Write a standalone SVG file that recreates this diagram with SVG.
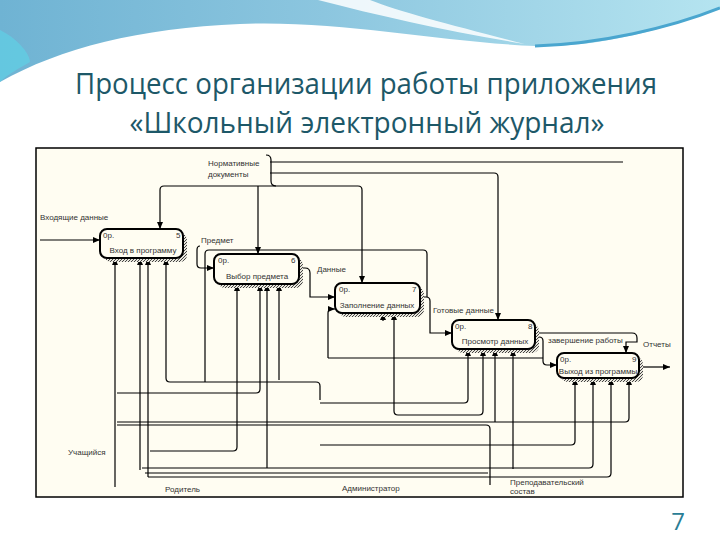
<svg xmlns="http://www.w3.org/2000/svg" width="720" height="540" viewBox="0 0 720 540">
<defs>
<linearGradient id="sky" x1="0" y1="0" x2="1" y2="0">
<stop offset="0" stop-color="#6fb3d3"/>
<stop offset="0.45" stop-color="#8cc6df"/>
<stop offset="1" stop-color="#b5e4f0"/>
</linearGradient>
<pattern id="hatch" patternUnits="userSpaceOnUse" width="3" height="3">
<rect width="3" height="3" fill="#e8e6dc"/>
<path d="M0,3 L3,0" stroke="#333" stroke-width="0.9"/>
</pattern>
<marker id="ah" markerUnits="userSpaceOnUse" markerWidth="8" markerHeight="7" refX="7" refY="3" orient="auto">
<path d="M0,0 L7,3 L0,6 Z" fill="#000"/>
</marker>
<style>
.ln{fill:none;stroke:#000;stroke-width:1.2}
.arr{fill:none;stroke:#000;stroke-width:1.2;marker-end:url(#ah)}
.box{fill:#fffdf2;stroke:#000;stroke-width:2}
.sh{fill:url(#hatch)}
.t{font-family:"Liberation Sans",Arial,sans-serif;font-size:8px;fill:#333}
.bt{font-family:"Liberation Sans",Arial,sans-serif;font-size:8px;fill:#333}
.title{font-family:"Open Sans","Liberation Sans",sans-serif;font-size:30px;fill:#1d5868}
</style>
</defs>
<rect width="720" height="540" fill="#ffffff"/>
<g id="background">
<path d="M0,0 H720 V8 C660,32 590,48 535,46 C440,42 340,20 240,24 C140,28 60,48 0,82 Z" fill="url(#sky)"/>
<path d="M0,30 C20,40 30,55 30,62 C20,68 8,74 0,82 Z" fill="#5fd0e6" opacity="0.7"/>
<path d="M318,0 C380,16 450,32 525,44 C455,26 400,12 370,0 Z" fill="#ffffff" opacity="0.85"/>
<path d="M535,46 C600,44 670,28 720,8" fill="none" stroke="#4aa6cf" stroke-width="3"/>
</g>
<g id="title">
<text class="title" x="366" y="94" text-anchor="middle" textLength="582" lengthAdjust="spacingAndGlyphs">Процесс организации работы приложения</text>
<text class="title" x="367" y="133" text-anchor="middle" textLength="475" lengthAdjust="spacingAndGlyphs">«Школьный электронный журнал»</text>
<text x="678" y="530" text-anchor="middle" font-family="Open Sans, Liberation Sans, sans-serif" font-size="24" fill="#2a7d95">7</text>
</g>
<g id="frame">
<rect x="36" y="148" width="647" height="349" fill="#fffdf2" stroke="#000" stroke-width="1.5"/>
</g>
<g id="connectors">
<path class="arr" d="M270,186 H164 Q160,186 160,190 V229"/>
<path class="arr" d="M258,186 V254"/>
<path class="arr" d="M270,186 H358 Q362,186 362,190 V283"/>
<path class="arr" d="M270,173 H494 Q498,173 498,177 V320"/>
<path class="ln" d="M270,162 H623"/>
<path class="ln" d="M266,155 Q271,155 271,160 V181 Q271,186 276,186"/>
<path class="arr" d="M40,240 H100"/>
<path class="arr" d="M200,246 Q197,246 197,250 V264 Q197,268 201,268 H214"/>
<path class="arr" d="M299,268 H305 Q310,268 310,273 V297 H335"/>
<path class="arr" d="M420,297 H426 Q430,297 430,301 V333 H452"/>
<path class="arr" d="M535,337 H539 Q543,337 543,341 V361 Q543,365 547,365 H557"/>
<path class="arr" d="M538,333 H632 Q637,333 637,338 V342 H626 V353"/>
<path class="arr" d="M639,367 H670"/>
<path class="ln" d="M427,297 V254 Q427,250 423,250 H209 Q205,250 205,254 V382"/>
<path class="arr" d="M328,358 V313 Q328,309 332,309 H335"/>
<path class="ln" d="M328,358 H543"/>
<path class="arr" d="M115,487 V258"/>
<path class="arr" d="M140,470 V258"/>
<path class="arr" d="M148,477 V258"/>
<path class="arr" d="M320,400 V386 Q320,382 316,382 H170 Q166,382 166,378 V258"/>
<path class="arr" d="M150,451 H233 Q237,451 237,447 V284"/>
<path class="arr" d="M117,393 H256 Q260,393 260,389 V284"/>
<path class="arr" d="M267,468 V284"/>
<path class="arr" d="M279,380 V284"/>
<path class="arr" d="M383,321 V313"/>
<path class="arr" d="M398,415 Q394,415 394,411 V313"/>
<path class="arr" d="M320,403 H464 Q468,403 468,399 V349"/>
<path class="arr" d="M398,415 H479 Q483,415 483,411 V349"/>
<path class="arr" d="M495,422 V349"/>
<path class="arr" d="M513,469 V349"/>
<path class="arr" d="M117,422 H625 Q629,422 629,418 V378"/>
<path class="arr" d="M320,445 H571 Q575,445 575,441 V378"/>
<path class="arr" d="M142,468 H589 Q593,468 593,464 V378"/>
<path class="arr" d="M148,477 H607 Q611,477 611,473 V378"/>
<path class="ln" d="M117,425 H486 Q490,425 490,429 V485"/>
<path class="ln" d="M145,473 H488"/>
</g>
<g id="box1">
<rect class="sh" x="104" y="233" width="83" height="29" rx="7"/>
<rect class="box" x="100" y="229" width="83" height="29" rx="7"/>
<text class="bt" x="103" y="238">0р.</text>
<text class="bt" x="176" y="238">5</text>
<text class="bt" x="143" y="253" text-anchor="middle">Вход в программу</text>
</g>
<g id="box2">
<rect class="sh" x="218" y="258" width="85" height="30" rx="7"/>
<rect class="box" x="214" y="254" width="85" height="30" rx="7"/>
<text class="bt" x="218" y="263">0р.</text>
<text class="bt" x="291" y="263">6</text>
<text class="bt" x="257" y="279" text-anchor="middle">Выбор предмета</text>
</g>
<g id="box3">
<rect class="sh" x="339" y="287" width="85" height="30" rx="7"/>
<rect class="box" x="335" y="283" width="85" height="30" rx="7"/>
<text class="bt" x="339" y="292">0р.</text>
<text class="bt" x="412" y="292">7</text>
<text class="bt" x="377" y="308" text-anchor="middle">Заполнение данных</text>
</g>
<g id="box4">
<rect class="sh" x="456" y="324" width="83" height="29" rx="7"/>
<rect class="box" x="452" y="320" width="83" height="29" rx="7"/>
<text class="bt" x="455" y="329">0р.</text>
<text class="bt" x="528" y="329">8</text>
<text class="bt" x="495" y="344" text-anchor="middle">Просмотр данных</text>
</g>
<g id="box5">
<rect class="sh" x="561" y="357" width="82" height="25" rx="7"/>
<rect class="box" x="557" y="353" width="82" height="25" rx="7"/>
<text class="bt" x="560" y="362">0р.</text>
<text class="bt" x="632" y="362">9</text>
<text class="bt" x="598" y="374" text-anchor="middle">Выход из программы</text>
</g>
<g id="labels">
<text class="t" x="208" y="166">Нормативные</text>
<text class="t" x="208" y="177">документы</text>
<text class="t" x="40" y="220">Входящие данные</text>
<text class="t" x="201" y="243">Предмет</text>
<text class="t" x="317" y="272">Данные</text>
<text class="t" x="433" y="313">Готовые данные</text>
<text class="t" x="548" y="343">завершение работы</text>
<text class="t" x="643" y="347">Отчеты</text>
<text class="t" x="68" y="455">Учащийся</text>
<text class="t" x="165" y="492">Родитель</text>
<text class="t" x="342" y="491">Администратор</text>
<text class="t" x="510" y="485">Преподавательский</text>
<text class="t" x="510" y="494">состав</text>
</g>
</svg>
